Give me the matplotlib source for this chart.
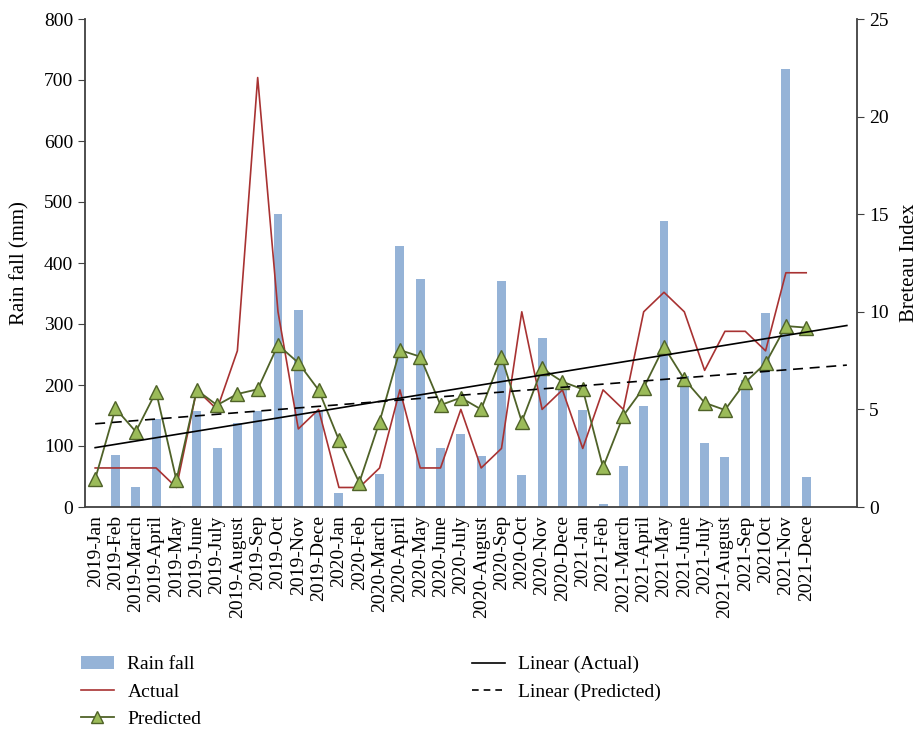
import matplotlib
matplotlib.use("Agg")
import matplotlib.pyplot as plt
import numpy as np
from matplotlib.patches import Patch
from matplotlib.lines import Line2D

plt.rcParams['font.family'] = ['Liberation Serif', 'DejaVu Serif']

months = ["2019-Jan", "2019-Feb", "2019-March", "2019-April", "2019-May", "2019-June",
          "2019-July", "2019-August", "2019-Sep", "2019-Oct", "2019-Nov", "2019-Dece",
          "2020-Jan", "2020-Feb", "2020-March", "2020-April", "2020-May", "2020-June",
          "2020-July", "2020-August", "2020-Sep", "2020-Oct", "2020-Nov", "2020-Dece",
          "2021-Jan", "2021-Feb", "2021-March", "2021-April", "2021-May", "2021-June",
          "2021-July", "2021-August", "2021-Sep", "2021Oct", "2021-Nov", "2021-Dece"]

rainfall = [0, 85, 33, 145, 2, 157, 97, 138, 157, 480, 323, 157,
            23, 0, 54, 428, 374, 97, 120, 84, 370, 52, 277, 200,
            159, 5, 67, 166, 469, 215, 105, 82, 208, 318, 718, 49]

actual = [2, 2, 2, 2, 1, 6, 5, 8, 22, 10, 4, 5,
          1, 1, 2, 6, 2, 2, 5, 2, 3, 10, 5, 6,
          3, 6, 5, 10, 11, 10, 7, 9, 9, 8, 12, 12]

predicted = [1.43, 5.05, 3.86, 5.91, 1.38, 5.99, 5.22, 5.79, 6.03, 8.30, 7.39, 5.99,
             3.43, 1.25, 4.37, 8.04, 7.70, 5.22, 5.60, 5.00, 7.70, 4.37, 7.10, 6.42,
             6.03, 2.03, 4.68, 6.11, 8.21, 6.54, 5.34, 4.97, 6.39, 7.36, 9.27, 9.19]

bar_color = "#95B3D7"
red = "#A83232"
green_edge = "#4F6228"
green_fill = "#9BBB59"
axis_color = "#404040"

fig = plt.figure(figsize=(9.21, 7.29), dpi=100)
ax = fig.add_axes([85/921, 1-507/729, (857-85)/921, (507-19)/729])
ax2 = ax.twinx()

x = np.arange(len(months))
ax.bar(x, rainfall, width=0.44, color=bar_color, zorder=1)

ax2.plot(x, actual, color=red, lw=1.2)
ax2.plot(x, predicted, color=green_edge, lw=1.3, marker='^', markersize=10,
         markerfacecolor=green_fill, markeredgecolor=green_edge, markeredgewidth=1.0)

# linear trendlines (fitted from the data, extended forward)
xt = np.array([0, 37.0])
pa = np.polyfit(x, actual, 1)
pp = np.polyfit(x, predicted, 1)
ax2.plot(xt, np.polyval(pa, xt), color='black', lw=1.2)
ax2.plot(xt, np.polyval(pp, xt), color='black', lw=1.2, ls=(0, (6, 4)))

ax.set_xlim(-0.5, 37.5)
ax.set_ylim(0, 800)
ax2.set_ylim(0, 25)
ax.set_yticks(np.arange(0, 801, 100))
ax2.set_yticks(np.arange(0, 26, 5))

ax.set_xticks(x)
ax.set_xticklabels(months, rotation=90, fontsize=14)
ax.tick_params(axis='x', length=0, pad=6)
ax.tick_params(axis='y', labelsize=14, length=5, color=axis_color, direction='out')
ax2.tick_params(axis='y', labelsize=14, length=5, color=axis_color, direction='out')

for a in (ax, ax2):
    a.spines['top'].set_visible(False)
    for s in ('left', 'right', 'bottom'):
        a.spines[s].set_color(axis_color)
        a.spines[s].set_linewidth(1.3)
ax.spines['right'].set_visible(False)
ax2.spines['left'].set_visible(False)
ax2.spines['bottom'].set_visible(False)

ax.set_ylabel("Rain fall (mm)", fontsize=15, labelpad=10)
ax2.set_ylabel("Breteau Index", fontsize=15, labelpad=8)

h1 = [Patch(facecolor=bar_color, label="Rain fall"),
      Line2D([], [], color=red, lw=1.2, label="Actual"),
      Line2D([], [], color=green_edge, lw=1.3, marker='^', markersize=9,
             markerfacecolor=green_fill, markeredgecolor=green_edge, label="Predicted")]
h2 = [Line2D([], [], color='black', lw=1.2, label="Linear (Actual)"),
      Line2D([], [], color='black', lw=1.2, ls=(0, (4, 3)), label="Linear (Predicted)")]

leg1 = fig.legend(handles=h1, loc='upper left', bbox_to_anchor=(71/921, 1-646/729),
                  frameon=False, fontsize=14, handlelength=1.7, labelspacing=0.5,
                  borderpad=0, handletextpad=0.7)
leg2 = fig.legend(handles=h2, loc='upper left', bbox_to_anchor=(462/921, 1-646/729),
                  frameon=False, fontsize=14, handlelength=1.7, labelspacing=0.5,
                  borderpad=0, handletextpad=0.7)

fig.savefig("out.png", dpi=100)
